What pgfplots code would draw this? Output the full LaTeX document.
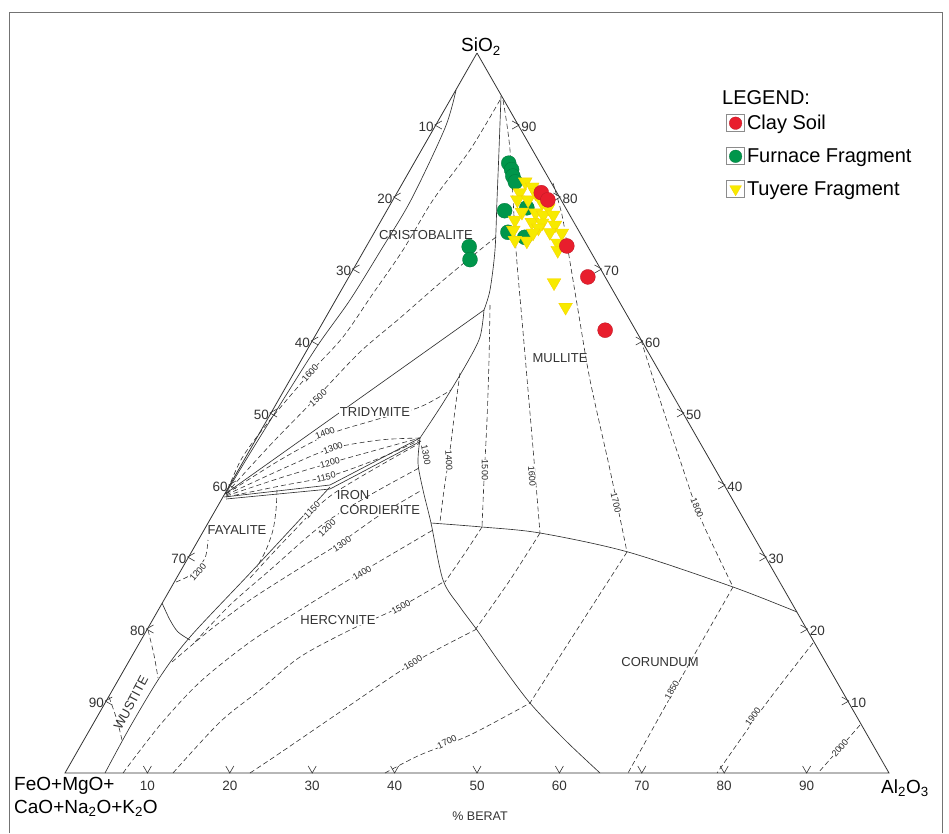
\documentclass[border=0pt]{standalone}
\usepackage{fontspec}
\setmainfont{Liberation Sans}
\usepackage{pgfplots}
\usepackage{pgfplotstable}
\pgfplotsset{compat=1.18}
\definecolor{clayred}{RGB}{232,30,45}
\definecolor{furngreen}{RGB}{0,150,75}
\definecolor{tuyyellow}{RGB}{247,234,0}
\definecolor{linec}{RGB}{50,50,50}
\newcommand\isofont{\fontsize{9bp}{10bp}\selectfont}
\newcommand\regfont{\fontsize{13bp}{14bp}\selectfont}
\newcommand\ticfont{\fontsize{13.5bp}{15bp}\selectfont}
\newcommand\bigfont{\fontsize{19bp}{21bp}\selectfont}

% compositions in wt% : S = SiO2, A = Al2O3 (rest = FeO+MgO+CaO+Na2O+K2O)
\pgfplotstableread{
S A
84.7 11.5
83.8 12.3
82.9 12.9
82.1 13.6
78.1 14.3
78.5 16.8
75.1 16.2
74.4 18.6
73.1 12.5
71.3 13.5
}\furnace
\pgfplotstableread{
S A
82.1 14.8
81.4 16.0
80.6 14.9
80.6 16.8
79.6 15.1
79.6 16.4
79.2 18.3
78.5 19.4
77.9 16.5
77.8 18.2
77.5 19.3
77.5 20.5
76.8 16.2
76.5 18.4
76.4 19.7
76.1 21.4
75.4 16.7
75.7 19.6
75.1 21.3
75.0 22.8
74.0 17.6
73.9 19.1
75.0 19.3
73.6 23.0
72.6 23.5
68.1 25.3
64.7 28.4
}\tuyere
\pgfplotstableread{
S A
80.6 17.5
79.6 18.8
73.2 24.3
68.9 29.0
61.5 34.8
}\clay

\begin{document}
\begin{tikzpicture}
\begin{axis}[
  width=949bp, height=833bp, scale only axis,
  xmin=0, xmax=949, ymin=0, ymax=833, y dir=reverse,
  axis lines=none, xtick=\empty, ytick=\empty, clip=false,
  every axis plot/.append style={line width=0.65bp},
  legend style={at={(axis cs:726,113)}, anchor=north west, draw=none, fill=none,
    inner sep=0pt, row sep=13.5bp, font=\fontsize{20bp}{22bp}\selectfont,
    nodes={inner sep=2bp}},
  legend cell align=left,
  legend image code/.code={%
    \draw[black!45, line width=0.8bp, fill=none, solid] (0bp,-8.5bp) rectangle (18bp,8.5bp);
    \draw plot[only marks] coordinates {(9bp,0bp)};},
]
\path (0,0) (949,833);
% legend entries
\addlegendimage{only marks, mark=*, mark size=6.3bp, mark options={fill=clayred, draw=clayred!80!black, line width=0.3bp}}
\addlegendentry{Clay Soil}
\addlegendimage{only marks, mark=*, mark size=6.3bp, mark options={fill=furngreen, draw=furngreen!80!black, line width=0.3bp}}
\addlegendentry{Furnace Fragment}
\addlegendimage{only marks, mark=triangle*, mark size=6.8bp, mark options={rotate=180, fill=tuyyellow, draw=tuyyellow!75!orange, line width=0.3bp}}
\addlegendentry{Tuyere Fragment}

% frame
\addplot[black!55, line width=0.9bp, forget plot] coordinates {(9.5,833) (9.5,12) (942,12) (942,833)};

% triangle
\addplot[linec, line width=0.8bp, forget plot] coordinates {(477,53) (65,773) (889,773) (477,53)};

% ---------- solid boundaries ----------
\addplot[linec, smooth, forget plot] coordinates {(456,90) (445,128) (411,200) (381,250) (350,300) (318,345) (283,400) (252,450) (226,493)};
\addplot[linec, smooth, forget plot] coordinates {(501,96) (499,150) (497,200) (495,250) (490,290) (484,310)};
\addplot[linec, forget plot] coordinates {(484,310) (225,494)};
\addplot[linec, smooth, forget plot] coordinates {(484,310) (480,337) (467,363) (443,403) (420,438)};
\addplot[linec, forget plot] coordinates {(224,497) (330,485) (420,438)};
\addplot[linec, forget plot] coordinates {(226,499) (330,489) (421,441)};
\addplot[linec, smooth, forget plot] coordinates {(105,773) (130,727) (160,677) (190,637) (253,570) (330,487)};
\addplot[linec, smooth, forget plot] coordinates {(162,603) (170,620) (178,632) (190,640)};
\addplot[linec, smooth, forget plot] coordinates {(420,438) (418,463) (423,490) (431,523) (443,580) (460,607) (477,630) (500,663) (530,703) (565,740) (600,773)};
\addplot[linec, smooth, forget plot] coordinates {(431,523) (482,527) (540,533) (628,552) (733,587) (797,612)};

% ---------- dashed isotherms ----------
\pgfplotsset{iso/.style={linec, line width=0.6bp, dash pattern=on 5bp off 3bp, smooth, forget plot}}
% cristobalite
\addplot[iso] coordinates {(500,100) (470,150) (433,200) (403,250) (372,295) (343,337) (310,373) (270,420) (242,458) (226,494)};
\addplot[iso] coordinates {(496,237) (470,258) (440,283) (400,318) (360,352) (318,396) (275,440) (240,478) (226,494)};
% tridymite
\addplot[iso] coordinates {(226,494) (280,460) (327,435) (375,420) (420,407) (451,390)};
\addplot[iso] coordinates {(226,495) (280,470) (330,449) (380,440) (420,438)};
\addplot[iso] coordinates {(226,496) (280,478) (330,463) (380,449) (420,438)};
\addplot[iso] coordinates {(226,497) (280,486) (330,476) (380,458) (420,440)};
% fayalite
\addplot[iso] coordinates {(277,490) (276,510) (273,530) (266,550) (257,567)};
\addplot[iso] coordinates {(176,582) (192,574) (205,558) (208,540)};
% wustite
\addplot[iso] coordinates {(148,630) (154,655) (158,678)};
\addplot[iso] coordinates {(109,697) (117,720) (122,740)};
% hercynite
\addplot[iso] coordinates {(250,578) (290,535) (333,494) (420,443)};
\addplot[iso] coordinates {(195,642) (230,605) (270,570) (322,525) (370,495) (419,468)};
\addplot[iso] coordinates {(172,662) (210,630) (250,600) (300,568) (340,543) (380,515) (422,490)};
\addplot[iso] coordinates {(123,773) (160,725) (200,682) (250,642) (300,610) (360,573) (433,530)};
\addplot[iso] coordinates {(173,773) (220,722) (260,690) (300,657) (350,630) (400,607) (445,581)};
\addplot[iso] coordinates {(250,773) (280,753) (340,712) (413,663) (475,630)};
\addplot[iso] coordinates {(385,773) (420,755) (470,735) (530,703)};
% mullite
\addplot[iso] coordinates {(460,373) (455,410) (450,450) (444,490) (440,522)};
\addplot[iso] coordinates {(490,305) (489,360) (487,420) (484,480) (482,527)};
\addplot[iso] coordinates {(503,100) (510,150) (516,250) (522,320) (528,390) (534,460) (540,533)};
\addplot[iso] coordinates {(553,183) (562,215) (568,250) (578,310) (590,380) (610,470) (627,552)};
\addplot[iso] coordinates {(641,340) (660,400) (680,460) (700,517) (733,587)};
% corundum
\addplot[iso] coordinates {(482,527) (465,553) (445,582)};
\addplot[iso] coordinates {(540,533) (510,580) (475,630)};
\addplot[iso] coordinates {(627,552) (580,625) (530,703)};
\addplot[iso] coordinates {(733,587) (680,680) (628,773)};
\addplot[iso] coordinates {(813,643) (765,705) (717,773)};
\addplot[iso] coordinates {(860,725) (840,748) (818,773)};

% ---------- ticks ----------
\pgfplotsinvokeforeach{1,...,9}{
  \draw[linec, line width=0.6bp] ({477-41.2*#1+6},{53+72*#1-4}) -- ({477-41.2*#1-1},{53+72*#1}) -- ({477-41.2*#1+6},{53+72*#1+4});
  \node[anchor=east, font=\ticfont, text=black!80, inner sep=0pt] at ({477-41.2*#1-2},{53+72*#1+2}) {\the\numexpr 10*#1\relax};
  \draw[linec, line width=0.6bp] ({889-41.2*#1-6},{773-72*#1-4}) -- ({889-41.2*#1+1},{773-72*#1}) -- ({889-41.2*#1-6},{773-72*#1+4});
  \node[anchor=west, font=\ticfont, text=black!80, inner sep=0pt] at ({889-41.2*#1+3},{773-72*#1+2}) {\the\numexpr 10*#1\relax};
  \draw[linec, line width=0.6bp] ({65+82.4*#1-4},766) -- ({65+82.4*#1},773) -- ({65+82.4*#1+4},766);
  \node[font=\ticfont, text=black!80, inner sep=0pt] at ({65+82.4*#1},786) {\the\numexpr 10*#1\relax};
}

% ---------- isotherm labels ----------
\tikzset{isol/.style={font=\isofont, fill=white, inner sep=0.4bp, text=black!85}}
\node[isol, rotate=49] at (310,373) {1600};
\node[isol, rotate=42] at (318,398) {1500};
\node[isol, rotate=22] at (325,433) {1400};
\node[isol, rotate=19] at (333,448) {1300};
\node[isol, rotate=16] at (330,463) {1200};
\node[isol, rotate=13] at (326,477) {1150};
\node[isol, rotate=-80] at (426,455) {1300};
\node[isol, rotate=-87] at (449,460) {1400};
\node[isol, rotate=-90] at (485,470) {1500};
\node[isol, rotate=-86] at (532,476) {1600};
\node[isol, rotate=-77] at (616,503) {1700};
\node[isol, rotate=-68] at (697,508) {1800};
\node[isol, rotate=46] at (312,510) {1150};
\node[isol, rotate=44] at (327,528) {1200};
\node[isol, rotate=34] at (342,544) {1300};
\node[isol, rotate=31] at (362,573) {1400};
\node[isol, rotate=28] at (401,607) {1500};
\node[isol, rotate=32] at (413,663) {1600};
\node[isol, rotate=25] at (447,742) {1700};
\node[isol, rotate=50] at (198,572) {1200};
\node[isol, rotate=60] at (672,690) {1850};
\node[isol, rotate=54] at (753,717) {1900};
\node[isol, rotate=50] at (840,748) {2000};

% ---------- field labels ----------
\tikzset{regl/.style={font=\regfont, text=black!80, inner sep=0.5bp}}
\node[regl] at (426,235) {CRISTOBALITE};
\node[regl, fill=white] at (375,412) {TRIDYMITE};
\node[regl] at (560,358) {MULLITE};
\node[regl] at (353,495) {IRON};
\node[regl, fill=white] at (380,510) {CORDIERITE};
\node[regl] at (237,530) {FAYALITE};
\node[regl, fill=white] at (338,620) {HERCYNITE};
\node[regl] at (660,662) {CORUNDUM};
\node[regl, rotate=62] at (131,703) {WUSTITE};

% ---------- corner labels ----------
\node[font=\bigfont, anchor=base, inner sep=0pt] at (481,52) {SiO\textsubscript{2}};
\node[font=\bigfont, anchor=base west, inner sep=0pt] at (14,790) {FeO+MgO+};
\node[font=\bigfont, anchor=base west, inner sep=0pt] at (14,813) {CaO+Na\textsubscript{2}O+K\textsubscript{2}O};
\node[font=\bigfont, anchor=base west, inner sep=0pt] at (881,793) {Al\textsubscript{2}O\textsubscript{3}};
\node[font=\fontsize{12.5bp}{14bp}\selectfont, text=black!80] at (480,816) {\% BERAT};
\node[font=\fontsize{20bp}{22bp}\selectfont, anchor=base west, inner sep=0pt] at (722,105) {LEGEND:};

% ---------- data ----------
\addplot[only marks, mark=*, mark size=7.5bp, mark options={fill=furngreen, draw=furngreen!80!black, line width=0.3bp}, forget plot]
  table[x expr={65+8.24*(\thisrow{A}+0.5*\thisrow{S})}, y expr={773-7.2*\thisrow{S}}] {\furnace};
\addplot[only marks, mark=triangle*, mark size=8bp, mark options={rotate=180, fill=tuyyellow, draw=tuyyellow!75!orange, line width=0.3bp}, forget plot]
  table[x expr={65+8.24*(\thisrow{A}+0.5*\thisrow{S})}, y expr={773-7.2*\thisrow{S}}] {\tuyere};
\addplot[only marks, mark=*, mark size=7.5bp, mark options={fill=clayred, draw=clayred!80!black, line width=0.3bp}, forget plot]
  table[x expr={65+8.24*(\thisrow{A}+0.5*\thisrow{S})}, y expr={773-7.2*\thisrow{S}}] {\clay};
\end{axis}
\end{tikzpicture}
\end{document}
